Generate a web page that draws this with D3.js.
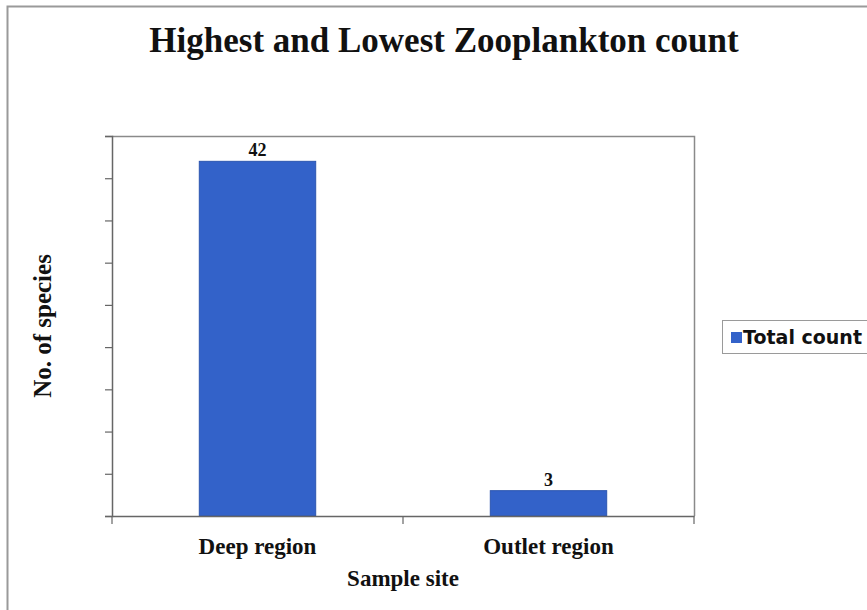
<!DOCTYPE html>
<html>
<head>
<meta charset="utf-8">
<script src="https://cdn.jsdelivr.net/npm/d3@7"></script>
<style>
  html, body { margin: 0; padding: 0; background: #fff; }
  svg { display: block; }
</style>
</head>
<body>
<svg id="chart" width="867" height="610"></svg>
<script>
// Zooplankton species count at two sample sites
const sites = ["Deep region", "Outlet region"];
const totalCount = [42, 3];
const yTicks = [0, 5, 10, 15, 20, 25, 30, 35, 40, 45];
const seriesName = "Total count";

const W = 867, H = 610;
const plot = { left: 112, right: 694, top: 136, bottom: 516 };
const barColor = "#3362c9";
const serif = "'Liberation Serif', 'Times New Roman', serif";

const svg = d3.select("#chart");

// Outer chart frame
svg.append("rect")
  .attr("x", 7.5).attr("y", 6.5)
  .attr("width", W + 10).attr("height", H + 10)
  .attr("fill", "#fff").attr("stroke", "#9a9a9a").attr("stroke-width", 2);

// Title
svg.append("text")
  .attr("x", 444).attr("y", 52)
  .attr("text-anchor", "middle")
  .style("font-family", serif).style("font-weight", "bold").style("font-size", "35px")
  .attr("fill", "#111")
  .text("Highest and Lowest Zooplankton count");

const x = d3.scaleBand().domain(sites).range([plot.left, plot.right]).paddingInner(0).paddingOuter(0);
const y = d3.scaleLinear().domain([0, 45]).range([plot.bottom, plot.top]);

// Plot area border (top and right)
svg.append("path")
  .attr("d", `M${plot.left},${plot.top + 0.5}H${plot.right + 0.5}V${plot.bottom}`)
  .attr("fill", "none").attr("stroke", "#8a8a8a").attr("stroke-width", 1.5);

// Bars
const barW = x.bandwidth() * 0.4;
svg.selectAll("rect.bar")
  .data(totalCount)
  .join("rect")
  .attr("class", "bar")
  .attr("x", (d, i) => x(sites[i]) + (x.bandwidth() - barW) / 2)
  .attr("y", d => y(d))
  .attr("width", barW)
  .attr("height", d => y(0) - y(d))
  .attr("fill", barColor)
  .attr("stroke", "#2c55b0").attr("stroke-width", 1);

// Value labels
svg.selectAll("text.val")
  .data(totalCount)
  .join("text")
  .attr("class", "val")
  .attr("x", (d, i) => x(sites[i]) + x.bandwidth() / 2)
  .attr("y", d => y(d) - 5)
  .attr("text-anchor", "middle")
  .style("font-family", serif).style("font-weight", "bold").style("font-size", "18px")
  .attr("fill", "#111")
  .text(d => d);

// Y axis: ticks only, no labels
const yAxis = svg.append("g")
  .attr("transform", `translate(${plot.left},0)`)
  .call(d3.axisLeft(y).tickValues(yTicks).tickSize(7).tickFormat(""));
yAxis.select(".domain").attr("stroke", "#666").attr("stroke-width", 1.5);
yAxis.selectAll(".tick line").attr("stroke", "#666").attr("stroke-width", 1.2);

// X axis: category boundaries as ticks
const xAxis = svg.append("g")
  .attr("transform", `translate(0,${plot.bottom})`)
  .call(d3.axisBottom(x).tickSize(0).tickFormat(""));
xAxis.select(".domain").attr("stroke", "#666").attr("stroke-width", 1.5);
xAxis.selectAll(".tick").remove();
const bounds = [plot.left, x(sites[1]), plot.right];
xAxis.selectAll("line.bound")
  .data(bounds)
  .join("line")
  .attr("class", "bound")
  .attr("x1", d => d).attr("x2", d => d)
  .attr("y1", 0).attr("y2", 8)
  .attr("stroke", "#666").attr("stroke-width", 1.2);

// Category labels
svg.selectAll("text.cat")
  .data(sites)
  .join("text")
  .attr("class", "cat")
  .attr("x", d => x(d) + x.bandwidth() / 2)
  .attr("y", 554)
  .attr("text-anchor", "middle")
  .style("font-family", serif).style("font-weight", "bold").style("font-size", "23px")
  .attr("fill", "#111")
  .text(d => d);

// Axis titles
svg.append("text")
  .attr("x", (plot.left + plot.right) / 2).attr("y", 586)
  .attr("text-anchor", "middle")
  .style("font-family", serif).style("font-weight", "bold").style("font-size", "23px")
  .attr("fill", "#111")
  .text("Sample site");

svg.append("text")
  .attr("transform", `translate(51,${(plot.top + plot.bottom) / 2}) rotate(-90)`)
  .attr("text-anchor", "middle")
  .style("font-family", serif).style("font-weight", "bold").style("font-size", "25px")
  .attr("fill", "#111")
  .text("No. of species");

// Legend
const lg = svg.append("g").attr("transform", "translate(722,320)");
lg.append("rect")
  .attr("x", 0.5).attr("y", 0.5).attr("width", 160).attr("height", 33)
  .attr("fill", "#fff").attr("stroke", "#9a9a9a").attr("stroke-width", 1);
lg.append("rect")
  .attr("x", 9).attr("y", 12).attr("width", 11).attr("height", 11)
  .attr("fill", barColor);
lg.append("text")
  .attr("x", 21).attr("y", 24)
  .style("font-family", "'DejaVu Sans', Verdana, sans-serif").style("font-weight", "bold").style("font-size", "19px")
  .attr("fill", "#111")
  .text(seriesName);
</script>
</body>
</html>
